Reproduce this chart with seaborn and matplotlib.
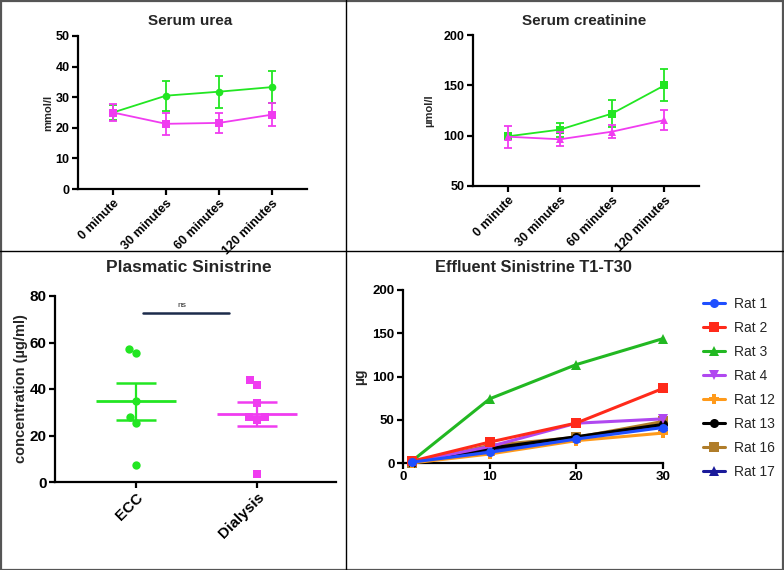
import matplotlib
matplotlib.use("Agg")
import numpy as np
import pandas as pd
import seaborn as sns
import matplotlib.pyplot as plt
from matplotlib.lines import Line2D
from matplotlib.patches import Rectangle

# ---- data ----
time_labels = ["0 minute", "30 minutes", "60 minutes", "120 minutes"]

urea_ecc = [25.0, 30.5, 31.8, 33.3]
urea_ecc_sem = [2.5, 4.9, 5.2, 5.3]
urea_dial = [25.0, 21.3, 21.6, 24.3]
urea_dial_sem = [2.9, 3.6, 3.3, 3.8]

creat_ecc = [99.3, 106.0, 122.0, 150.0]
creat_ecc_sem = [3.0, 7.0, 13.5, 16.0]
creat_dial = [99.0, 96.4, 104.0, 115.5]
creat_dial_sem = [11.0, 6.8, 6.8, 10.3]

groups = ["ECC", "Dialysis"]
ecc_conc = [57.3, 55.4, 34.9, 27.9, 25.4, 7.1]
dial_conc = [43.9, 41.9, 33.8, 27.9, 26.5, 27.9, 3.3]

eff_time = [1, 10, 20, 30]
rat_names = ["Rat 1", "Rat 2", "Rat 3", "Rat 4", "Rat 12", "Rat 13", "Rat 16", "Rat 17"]
rat_1 = [1.0, 12.3, 27.7, 41.0]
rat_2 = [2.0, 24.2, 46.2, 86.2]
rat_3 = [2.0, 74.2, 113.8, 143.8]
rat_4 = [1.0, 19.0, 46.0, 51.0]
rat_12 = [0.0, 10.4, 25.8, 34.6]
rat_13 = [0.0, 17.0, 30.4, 44.6]
rat_16 = [0.0, 20.4, 29.6, 48.0]
rat_17 = [1.0, 15.4, 28.8, 43.0]

GREEN = "#22e622"
PINK = "#f03cf0"
rat_colors = ["#1f4fff", "#ff2a1a", "#22b822", "#b048f0", "#ff9a1a", "#000000", "#b07d2a", "#1a1a9a"]
rat_markers = ["o", "s", "^", "v", "P", "o", "s", "^"]

sns.set_theme(style="ticks")
plt.rcParams["font.family"] = ["Liberation Sans", "DejaVu Sans"]
plt.rcParams["font.weight"] = "bold"

W, H = 784, 570
fig = plt.figure(figsize=(W / 100, H / 100), dpi=100)


def px_rect(left, top, right, bottom):
    # axes rectangle from pixel edges
    return [left / W, (H - bottom) / H, (right - left) / W, (bottom - top) / H]


def style_axes(ax, tick_size):
    sns.despine(ax=ax)
    for s in ("left", "bottom"):
        ax.spines[s].set_linewidth(1.6)
        ax.spines[s].set_color("black")
    ax.tick_params(direction="out", length=4, width=1.6, colors="black",
                   labelsize=tick_size, pad=2)
    for lab in ax.get_xticklabels() + ax.get_yticklabels():
        lab.set_fontweight("bold")


def serum_panel(rect, ecc, ecc_err, dial, dial_err, ecc_marker, dial_marker,
                ylim, yticks, ylabel, labelpad):
    ax = fig.add_axes(rect)
    pos = np.arange(len(time_labels))
    for vals, errs, color, marker in [(ecc, ecc_err, GREEN, ecc_marker),
                                      (dial, dial_err, PINK, dial_marker)]:
        sns.lineplot(x=pos, y=vals, color=color, marker=marker, markersize=5.5,
                     markeredgewidth=0, linewidth=1.3, ax=ax)
        ax.errorbar(pos, vals, yerr=errs, fmt="none", ecolor=color,
                    elinewidth=1.3, capsize=2.6, capthick=1.3)
    ax.set_xlim(-0.66, 3.66)
    ax.set_ylim(*ylim)
    ax.set_yticks(yticks)
    ax.set_xticks(pos)
    ax.set_xticklabels(time_labels, rotation=45, ha="right", rotation_mode="anchor")
    ax.set_xlabel("")
    ax.set_ylabel(ylabel, fontsize=8, fontweight="bold", labelpad=labelpad)
    style_axes(ax, 9)
    return ax


serum_panel(px_rect(78, 36, 307, 189), urea_ecc, urea_ecc_sem, urea_dial, urea_dial_sem,
            "o", "s", (0, 50), [0, 10, 20, 30, 40, 50], "mmol/l", 2)
serum_panel(px_rect(473, 35, 699, 186), creat_ecc, creat_ecc_sem, creat_dial, creat_dial_sem,
            "s", "^", (50, 200), [50, 100, 150, 200], "µmol/l", 7)

# ---- plasmatic sinistrine ----
ax3 = fig.add_axes(px_rect(55, 296, 336, 482))
conc = pd.DataFrame({"group": ["ECC"] * len(ecc_conc) + ["Dialysis"] * len(dial_conc),
                     "value": ecc_conc + dial_conc})
for g, color, marker in [("ECC", GREEN, "o"), ("Dialysis", PINK, "s")]:
    sns.swarmplot(data=conc[conc["group"] == g], x="group", y="value", order=groups,
                  color=color, marker=marker, size=6, linewidth=0, ax=ax3)
stats = conc.groupby("group")["value"].agg(["mean", "sem"]).reindex(groups)
for i, (g, color) in enumerate(zip(groups, [GREEN, PINK])):
    m, e = stats.loc[g, "mean"], stats.loc[g, "sem"]
    ax3.hlines(m, i - 0.33, i + 0.33, color=color, lw=2)
    ax3.errorbar(i, m, yerr=e, fmt="none", ecolor=color, elinewidth=1.6,
                 capsize=14.5, capthick=1.8)
ax3.plot([0.06, 0.77], [72.7, 72.7], color="#1c2b4a", lw=1.8)
ax3.text(0.38, 74.5, "ns", ha="center", va="bottom", fontsize=6, fontweight="normal")
ax3.set_xlim(-0.67, 1.65)
ax3.set_ylim(0, 80)
ax3.set_yticks([0, 20, 40, 60, 80])
ax3.set_xticks([0, 1])
ax3.set_xticklabels(groups, rotation=45, ha="right", rotation_mode="anchor")
ax3.set_xlabel("")
ax3.set_ylabel("concentration (µg/ml)", fontsize=10.5, fontweight="bold", labelpad=1)
style_axes(ax3, 11)

# ---- effluent sinistrine ----
ax4 = fig.add_axes(px_rect(403, 290, 663, 463))
rat_series = [rat_1, rat_2, rat_3, rat_4, rat_12, rat_13, rat_16, rat_17]
eff = pd.DataFrame({
    "rat": np.repeat(rat_names, len(eff_time)),
    "time": eff_time * len(rat_names),
    "value": np.concatenate(rat_series),
})
sns.lineplot(data=eff, x="time", y="value", hue="rat", style="rat", hue_order=rat_names,
             style_order=rat_names, palette=dict(zip(rat_names, rat_colors)),
             markers=dict(zip(rat_names, rat_markers)), dashes=False,
             linewidth=2.2, markersize=6.5, markeredgewidth=0, ax=ax4)
for k, line in enumerate(ax4.lines[:len(rat_names)]):
    line.set_zorder(10 - k * 0.1)
    line.set_clip_on(False)
ax4.set_xlim(0, 30)
ax4.set_ylim(0, 200)
ax4.set_xticks([0, 10, 20, 30])
ax4.set_yticks([0, 50, 100, 150, 200])
ax4.set_xlabel("")
ax4.set_ylabel("µg", fontsize=10, fontweight="bold", labelpad=4)
style_axes(ax4, 9.5)
sns.move_legend(ax4, "upper left", bbox_to_anchor=(690 / W, (H - 284) / H),
                bbox_transform=fig.transFigure, frameon=False, title=None,
                fontsize=10, handlelength=1.6, handletextpad=0.7, labelspacing=0.72)
for t in ax4.get_legend().get_texts():
    t.set_fontweight("normal")

# ---- titles ----
fig.text(190 / W, 1 - 21 / H, "Serum urea", ha="center", va="center", fontsize=11, fontweight="bold")
fig.text(584 / W, 1 - 21 / H, "Serum creatinine", ha="center", va="center", fontsize=11, fontweight="bold")
fig.text(189 / W, 1 - 268 / H, "Plasmatic Sinistrine", ha="center", va="center", fontsize=12.5, fontweight="bold")
fig.text(533 / W, 1 - 268 / H, "Effluent Sinistrine T1-T30", ha="center", va="center", fontsize=11.8, fontweight="bold")

# ---- panel frame ----
fig.add_artist(Line2D([346 / W, 346 / W], [0, 1], transform=fig.transFigure, color="black", lw=1))
fig.add_artist(Line2D([0, 1], [1 - 251 / H, 1 - 251 / H], transform=fig.transFigure, color="black", lw=1))
fig.add_artist(Rectangle((0.5 / W, 0.5 / H), 1 - 1.5 / W, 1 - 1.5 / H, transform=fig.transFigure,
                         fill=False, edgecolor="#555555", lw=1.6))

fig.savefig("out.png", dpi=100)
